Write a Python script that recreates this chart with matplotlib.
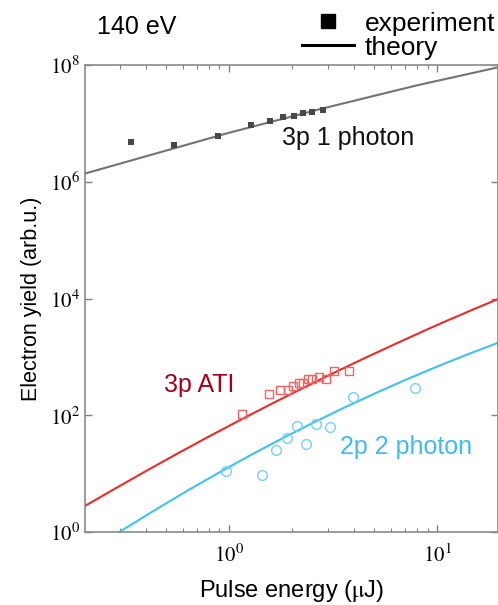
import numpy as np
import matplotlib
matplotlib.use("Agg")
import matplotlib.pyplot as plt
from matplotlib.lines import Line2D
from matplotlib.ticker import FixedLocator, FuncFormatter, LogLocator, NullLocator

plt.rcParams['font.family'] = ['Liberation Sans', 'DejaVu Sans']
plt.rcParams['mathtext.fontset'] = 'stix'

# 3p one-photon ionisation (experiment and theory)
exp_3p_x = [0.337, 0.542, 0.889, 1.28, 1.58, 1.82, 2.05, 2.27, 2.51, 2.82]
exp_3p_y = [4.8e6, 4.2e6, 6.1e6, 9.2e6, 1.1e7, 1.28e7, 1.36e7, 1.48e7, 1.57e7, 1.70e7]
th_3p_x = [0.203, 1.0, 2.82, 7.94, 19.6]
th_3p_y = [1.38e6, 6.9e6, 1.8e7, 4.45e7, 9.1e7]

# 3p above-threshold ionisation
exp_ati_x = [1.15, 1.56, 1.76, 1.92, 2.04, 2.16, 2.26, 2.41, 2.51, 2.71, 2.92, 3.20, 3.76]
exp_ati_y = [106, 231, 270, 273, 320, 352, 356, 412, 412, 456, 422, 578, 565]
th_ati_x = [0.203, 0.282, 0.398, 0.562, 0.794, 1.122, 1.585, 2.239, 3.16, 4.467,
            6.31, 8.91, 11.2, 14.8, 19.6]
th_ati_y = [2.79, 5.48, 11.0, 21.8, 42.5, 81.5, 154, 286, 524, 944,
            1670, 2920, 4190, 6410, 9770]

# 2p two-photon ionisation
exp_2p_x = [0.967, 1.44, 1.69, 1.90, 2.12, 2.34, 2.63, 3.06, 3.93, 7.87]
exp_2p_y = [11.1, 9.4, 25.4, 41.2, 65.4, 31.8, 71.6, 62.1, 207, 289]
th_2p_x = [0.297, 0.447, 0.631, 0.891, 1.26, 1.778, 2.51, 3.548, 5.01, 7.08,
           10.0, 14.1, 19.6]
th_2p_y = [1.0, 2.45, 5.1, 10.3, 20.4, 39.1, 73, 133, 235, 406,
           681, 1112, 1740]

W, H = 498, 605
fig = plt.figure(figsize=(W / 100, H / 100), dpi=100)
ax = fig.add_axes([85 / W, 73 / H, 413 / W, 467 / H])

ax.plot(th_3p_x, th_3p_y, color='#737373', lw=1.5)
ax.plot(exp_3p_x, exp_3p_y, 's', color='#484848', ms=5, mew=0)
ax.plot(th_ati_x, th_ati_y, color='#EE2B2B', lw=1.5)
ax.plot(exp_ati_x, exp_ati_y, 's', mfc='none', mec='#F26464', ms=6, mew=1.0)
ax.plot(th_2p_x, th_2p_y, color='#3FC2F2', lw=1.5)
ax.plot(exp_2p_x, exp_2p_y, 'o', mfc='none', mec='#72D4F4', ms=7, mew=1.0)

ax.set_xscale('log')
ax.set_yscale('log')
ax.set_xlim(10 ** -0.692, 10 ** 1.293)
ax.set_ylim(1, 1e8)

ax.yaxis.set_major_locator(FixedLocator([1, 1e2, 1e4, 1e6, 1e8]))
ax.yaxis.set_minor_locator(NullLocator())
ax.xaxis.set_major_locator(FixedLocator([1, 10]))
ax.xaxis.set_minor_locator(LogLocator(base=10, subs=np.arange(2, 10)))
fmt = FuncFormatter(lambda v, p: r'$\mathrm{10^{%d}}$' % int(round(np.log10(v))))
ax.xaxis.set_major_formatter(fmt)
ax.yaxis.set_major_formatter(fmt)

ax.tick_params(which='both', direction='in', top=True, right=True, colors='#808080',
               labelcolor='black', labelsize=15)
ax.tick_params(which='major', length=5, width=1)
ax.tick_params(which='minor', length=3, width=0.8)
ax.tick_params(axis='x', pad=8)
for s in ax.spines.values():
    s.set_color('#8a8a8a')
    s.set_linewidth(1.2)

ax.set_xlabel(r'Pulse energy ($\mathrm{\mu}$J)', fontsize=17, labelpad=9)
ax.set_ylabel('Electron yield (arb.u.)', fontsize=15.5, labelpad=6)

# curve labels, placed in figure pixels from the top
def label(x, y, s, color):
    fig.text(x / W, 1 - y / H, s, fontsize=18, color=color, va='center')

label(282, 138, '3p 1 photon', '#111111')
label(164, 385, '3p ATI', '#A8001A')
label(340, 447, '2p 2 photon', '#3DBDF0')
label(97, 27, '140 eV', 'black')

handles = [Line2D([], [], ls='none', marker='s', color='black', ms=10.5),
           Line2D([], [], color='black', lw=2.2)]
fig.legend(handles, ['experiment', 'theory'], loc='upper right',
           bbox_to_anchor=(1.0, 1 - 9 / H), frameon=False, fontsize=19,
           handlelength=2.0, handletextpad=0.4, labelspacing=0.0,
           borderaxespad=0.0, borderpad=0.1)

fig.savefig('out.png', dpi=100)
